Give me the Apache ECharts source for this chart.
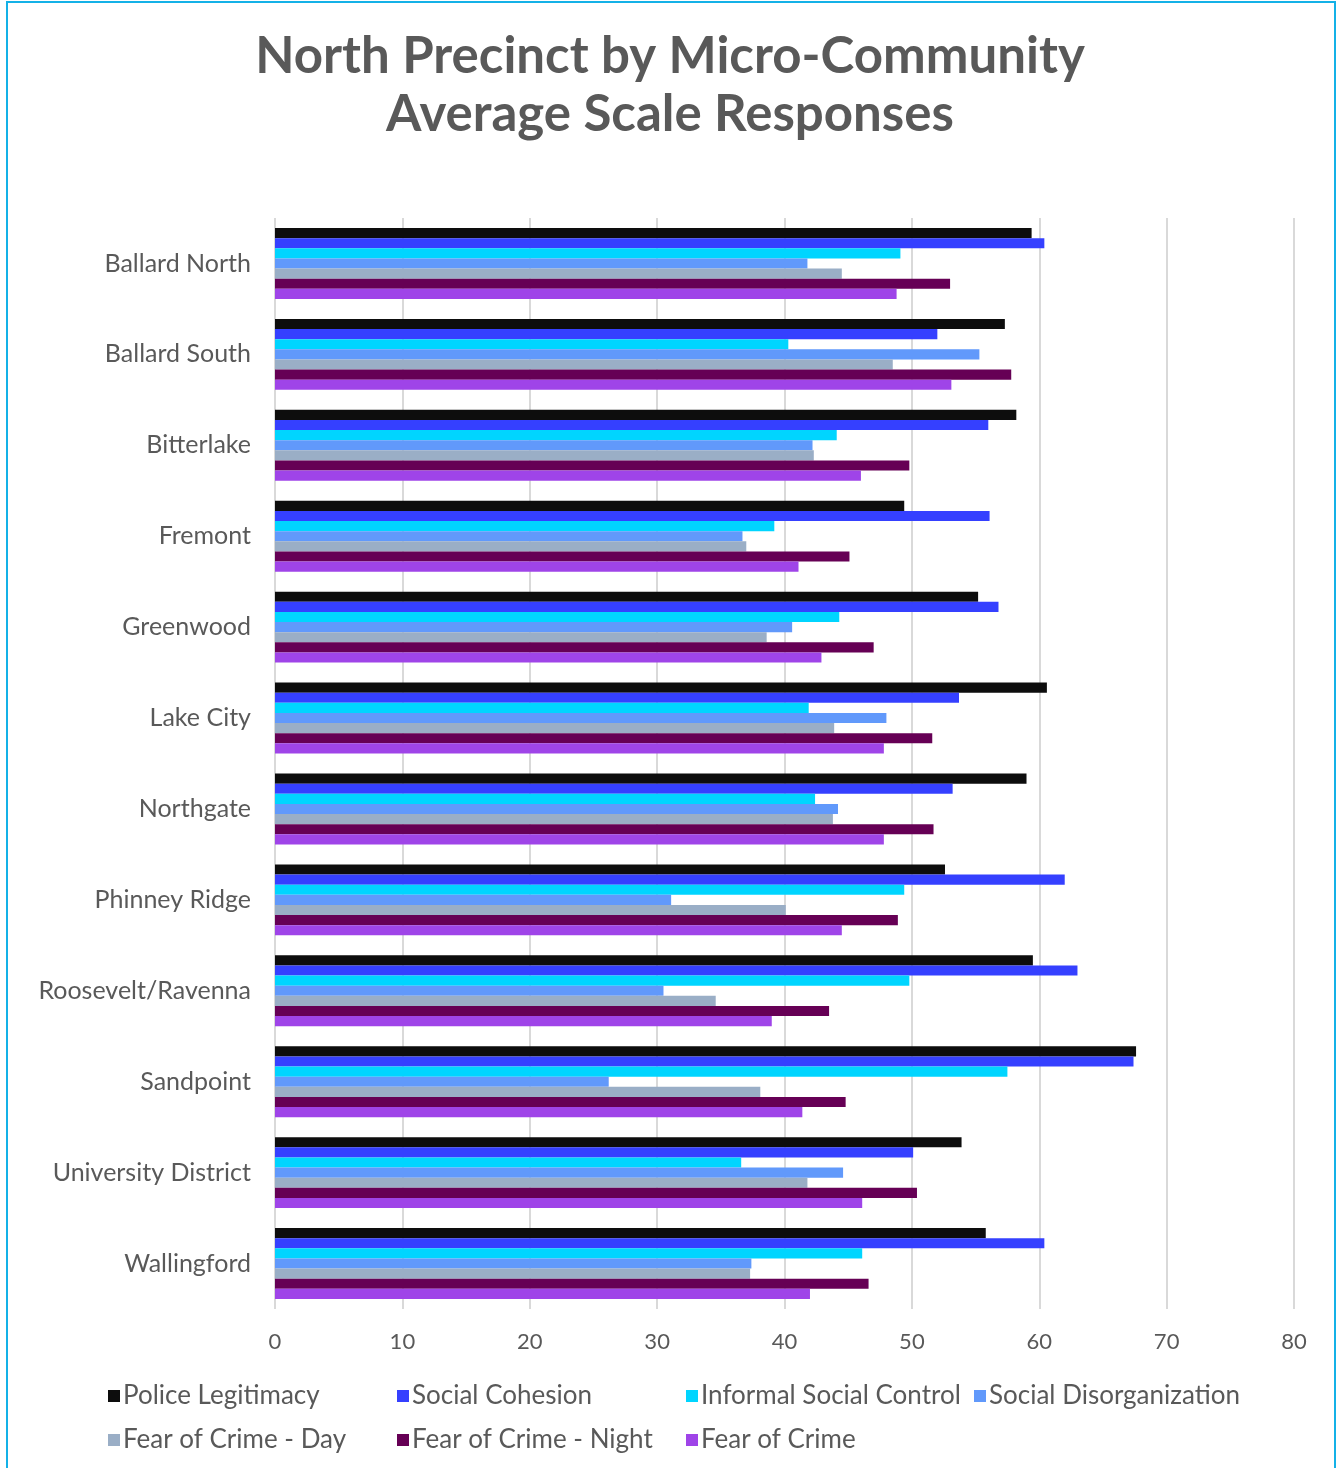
<!DOCTYPE html>
<html><head><meta charset="utf-8">
<script src="https://cdn.jsdelivr.net/npm/echarts@6/dist/echarts.min.js"></script>
<style>html,body{margin:0;padding:0;background:#fff}#c{width:1340px;height:1468px}</style>
</head><body><div id="c"></div>
<script>
const categories = ['Ballard North','Ballard South','Bitterlake','Fremont','Greenwood','Lake City','Northgate','Phinney Ridge','Roosevelt/Ravenna','Sandpoint','University District','Wallingford'];
const seriesNames = ['Police Legitimacy','Social Cohesion','Informal Social Control','Social Disorganization','Fear of Crime - Day','Fear of Crime - Night','Fear of Crime'];
const policeLegitimacy      = [59.4, 57.3, 58.2, 49.4, 55.2, 60.6, 59.0, 52.6, 59.5, 67.6, 53.9, 55.8];
const socialCohesion        = [60.4, 52.0, 56.0, 56.1, 56.8, 53.7, 53.2, 62.0, 63.0, 67.4, 50.1, 60.4];
const informalSocialControl = [49.1, 40.3, 44.1, 39.2, 44.3, 41.9, 42.4, 49.4, 49.8, 57.5, 36.6, 46.1];
const socialDisorganization = [41.8, 55.3, 42.2, 36.7, 40.6, 48.0, 44.2, 31.1, 30.5, 26.2, 44.6, 37.4];
const fearDay               = [44.5, 48.5, 42.3, 37.0, 38.6, 43.9, 43.8, 40.1, 34.6, 38.1, 41.8, 37.3];
const fearNight             = [53.0, 57.8, 49.8, 45.1, 47.0, 51.6, 51.7, 48.9, 43.5, 44.8, 50.4, 46.6];
const fearOfCrime           = [48.8, 53.1, 46.0, 41.1, 42.9, 47.8, 47.8, 44.5, 39.0, 41.4, 46.1, 42.0];
const xTicks = [0, 10, 20, 30, 40, 50, 60, 70, 80];

const colors = ['#0d0d0d', '#3540ff', '#00d5ff', '#6199fb', '#9aaec6', '#660055', '#9f44e8'];
const values = [policeLegitimacy, socialCohesion, informalSocialControl, socialDisorganization, fearDay, fearNight, fearOfCrime];
const FONT = 'Lato';
const TXT = '#595959';

const legendLefts = [103, 392, 681, 969, 103, 392, 681];
const legendTops = [1378, 1378, 1378, 1378, 1422, 1422, 1422];

const chart = echarts.init(document.getElementById('c'));
chart.setOption({
  animation: false,
  color: colors,
  title: {
    text: 'North Precinct by Micro-Community\nAverage Scale Responses',
    left: 'center', top: 23,
    textStyle: {fontFamily: FONT, fontWeight: 'bold', fontSize: 51, lineHeight: 58, color: TXT}
  },
  graphic: [{type: 'rect', shape: {x: 7, y: 2, width: 1328, height: 1500}, style: {fill: 'none', stroke: '#14b1e7', lineWidth: 2}, silent: true}],
  legend: seriesNames.map((n, i) => ({
    data: [n], left: legendLefts[i], top: legendTops[i],
    itemWidth: 12, itemHeight: 12, itemGap: 0, icon: 'rect',
    textStyle: {color: TXT, fontSize: 26, fontFamily: FONT, padding: [0, 0, 0, -2]}
  })),
  grid: {left: 275, right: 46, top: 218, bottom: 159, containLabel: false},
  xAxis: {
    type: 'value', min: xTicks[0], max: xTicks[xTicks.length - 1], interval: 10,
    axisLine: {show: false}, axisTick: {show: false},
    splitLine: {lineStyle: {color: '#d9d9d9', width: 2}},
    axisLabel: {color: TXT, fontSize: 22, fontFamily: FONT, margin: 22}
  },
  yAxis: {
    type: 'category', data: categories, inverse: true,
    axisLine: {show: false}, axisTick: {show: false},
    axisLabel: {color: TXT, fontSize: 25, fontFamily: FONT, margin: 24}
  },
  series: seriesNames.map((n, i) => ({
    name: n, type: 'bar', data: values[i],
    barGap: '0%', barCategoryGap: '22%',
    itemStyle: {color: colors[i]}
  }))
});
</script></body></html>
